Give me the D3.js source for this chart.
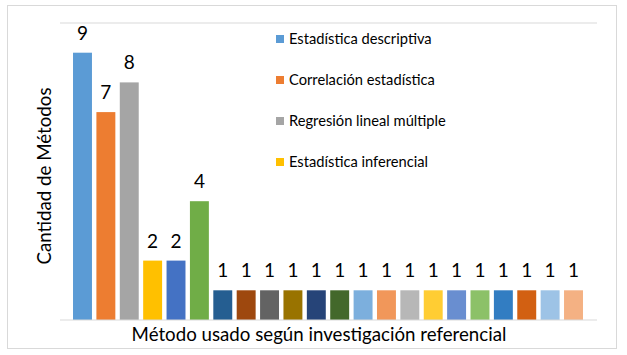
<!DOCTYPE html>
<html lang="es">
<head>
    <meta charset="UTF-8">
    <title>Método usado según investigación referencial</title>
    <style>
        body { margin: 0; background: #fff; }
        text { font-family: Lato, "Open Sans", sans-serif; fill: #000; }
        .value-label { font-size: 19px; }
        .axis-title { font-size: 18.7px; }
        .legend-label { font-size: 14.7px; }
    </style>
</head>
<body>
    <svg width="627" height="355"></svg>
    <script src="https://d3js.org/d3.v7.min.js"></script>
    <script>
        // data
        const categories = d3.range(1, 23).map(i => "M" + i);
        const values = [9, 7, 8, 2, 2, 4, 1, 1, 1, 1, 1, 1, 1, 1, 1, 1, 1, 1, 1, 1, 1, 1];
        const barColors = [
            "#5B9BD5", "#ED7D31", "#A5A5A5", "#FFC000", "#4472C4", "#70AD47",
            "#255E91", "#9E480E", "#636363", "#997300", "#264478", "#43682B",
            "#7CAFDD", "#F1975A", "#B7B7B7", "#FFCD33", "#698ED0", "#8CC168",
            "#327DC2", "#D26012", "#9DC3E6", "#F4B183"
        ];
        const legendLabels = [
            "Estadística descriptiva",
            "Correlación estadística",
            "Regresión lineal múltiple",
            "Estadística inferencial"
        ];
        const xTitle = "Método usado según investigación referencial";
        const yTitle = "Cantidad de Métodos";

        const svg = d3.select("svg");

        // chart frame
        svg.append("rect")
            .attr("x", 7.5).attr("y", 5.5)
            .attr("width", 609).attr("height", 343)
            .attr("fill", "#fff")
            .attr("stroke", "#d9d9d9");

        const plot = {left: 60, right: 597, top: 23, bottom: 320};

        const x = d3.scaleBand()
            .domain(categories)
            .range([70.8, 585.2])
            .paddingInner(0.19)
            .paddingOuter(0.095);

        const y = d3.scaleLinear()
            .domain([0, 10])
            .range([plot.bottom, plot.top]);

        // top gridline
        svg.append("line")
            .attr("x1", plot.left).attr("x2", plot.right)
            .attr("y1", y(10)).attr("y2", y(10))
            .attr("stroke", "#d9d9d9");

        svg.selectAll(".bar")
            .data(values)
            .enter().append("rect")
            .attr("class", "bar")
            .attr("x", (d, i) => x(categories[i]))
            .attr("y", d => y(d))
            .attr("width", x.bandwidth())
            .attr("height", d => y(0) - y(d))
            .attr("fill", (d, i) => barColors[i]);

        svg.selectAll(".value-label")
            .data(values)
            .enter().append("text")
            .attr("class", "value-label")
            .attr("x", (d, i) => x(categories[i]) + x.bandwidth() / 2)
            .attr("y", d => y(d) - 13)
            .attr("text-anchor", "middle")
            .text(d => d);

        // baseline
        svg.append("line")
            .attr("x1", plot.left).attr("x2", plot.right)
            .attr("y1", y(0)).attr("y2", y(0))
            .attr("stroke", "#d9d9d9");

        svg.append("text")
            .attr("class", "axis-title")
            .attr("x", 319)
            .attr("y", 341)
            .attr("text-anchor", "middle")
            .text(xTitle);

        svg.append("text")
            .attr("class", "axis-title")
            .attr("transform", "translate(51,176) rotate(-90)")
            .attr("text-anchor", "middle")
            .text(yTitle);

        const legend = svg.selectAll(".legend")
            .data(legendLabels)
            .enter().append("g")
            .attr("class", "legend")
            .attr("transform", (d, i) => `translate(276,${39 + i * 41})`);

        legend.append("rect")
            .attr("x", 0).attr("y", -4)
            .attr("width", 8).attr("height", 8)
            .attr("fill", (d, i) => barColors[i]);

        legend.append("text")
            .attr("class", "legend-label")
            .attr("x", 13)
            .attr("dy", "0.35em")
            .text(d => d);
    </script>
</body>
</html>
